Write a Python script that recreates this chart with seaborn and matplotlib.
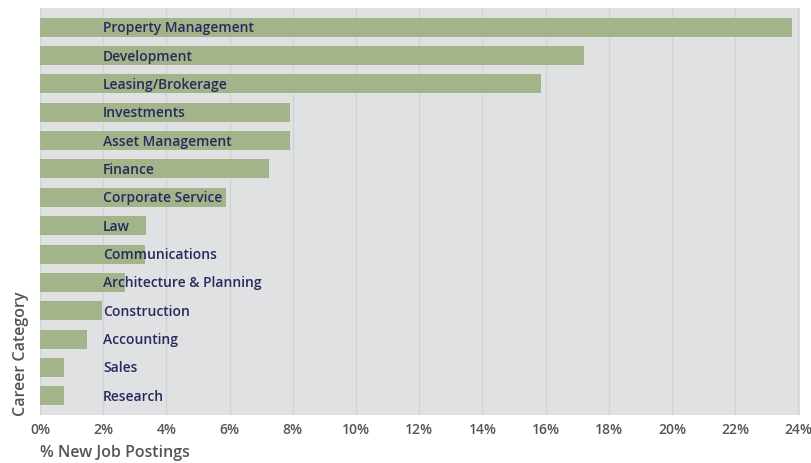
import matplotlib
matplotlib.use("Agg")
import matplotlib.pyplot as plt
import seaborn as sns
import pandas as pd

categories = [
    "Property Management", "Development", "Leasing/Brokerage", "Investments",
    "Asset Management", "Finance", "Corporate Service", "Law", "Communications",
    "Architecture & Planning", "Construction", "Accounting", "Sales", "Research",
]
share_pct = [23.8, 17.2, 15.85, 7.9, 7.9, 7.25, 5.9, 3.35, 3.33, 2.7, 1.95, 1.5, 0.75, 0.75]
x_ticks = list(range(0, 25, 2))
x_tick_labels = [f"{t}%" for t in x_ticks]

df = pd.DataFrame({"category": categories, "share": share_pct})

sns.set_theme(style="white")
plt.rcParams["font.family"] = ["Open Sans", "DejaVu Sans"]

fig = plt.figure(figsize=(8.12, 4.64), dpi=100)
ax = fig.add_axes([40 / 812, 1 - 416 / 464, 760 / 812, 407 / 464])
ax.set_facecolor("#e0e1e3")

sns.barplot(data=df, x="share", y="category", orient="h", color="#a3b48a",
            saturation=1, width=0.67, linewidth=0, edgecolor="none", ax=ax, zorder=2)

ax.set_xlim(0, 24.05)
ax.set_ylim(len(categories) - 1 + 0.68, -0.68)
ax.set_xticks(x_ticks)
ax.set_xticklabels(x_tick_labels, color="#555555", fontsize=10, fontweight="semibold")
ax.tick_params(axis="x", length=0, pad=5)
ax.set_yticks([])
ax.xaxis.grid(True, color="#d2d3d5", linewidth=1.0, zorder=0)
ax.set_axisbelow(True)
for s in ax.spines.values():
    s.set_visible(False)

for i, name in enumerate(categories):
    ax.text(2.0, i, name, ha="left", va="center", color="#272a5c",
            fontsize=10, fontweight="semibold", zorder=3)

ax.set_xlabel("% New Job Postings", color="#555555", fontsize=11.5,
              fontweight="semibold", loc="left", labelpad=6)
ax.set_ylabel("Career Category", color="#555555", fontsize=11.5,
              fontweight="semibold", loc="bottom", labelpad=8)

fig.savefig("out.png", dpi=100)
